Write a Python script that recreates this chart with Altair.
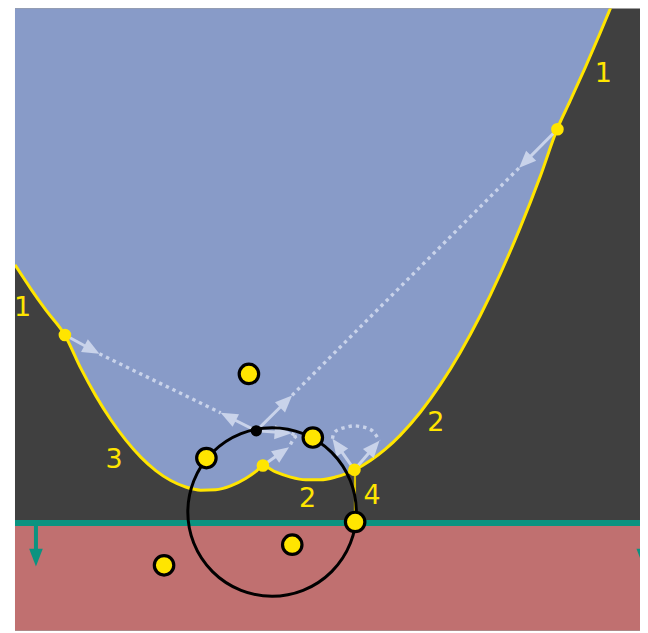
import math
import altair as alt
import pandas as pd

# ---------------- data (image coordinates) ----------------
frame_x = [14, 648]
frame_y = [6, 633]
sweep_y = 523.3

# beach line (yellow curve)
curve_x = [14, 30, 45, 64, 80, 95, 110, 125, 140, 155, 170, 185, 200, 215, 230, 245,
           255, 262, 275, 290, 305, 320, 335, 345, 355, 370, 385, 400, 420, 440, 460,
           480, 500, 520, 540, 557, 570, 585, 600, 612]
curve_y = [264.8, 289.0, 310.2, 335.2, 368.5, 396.0, 419.9, 440.3, 457.3, 470.8, 480.8,
           487.3, 490.4, 490.0, 486.1, 478.7, 471.9, 466.0, 472.2, 477.4, 480.0, 480.0,
           477.3, 474.1, 469.7, 460.8, 449.4, 435.3, 412.4, 384.8, 352.5, 315.5, 273.8,
           227.5, 176.4, 128.8, 100.6, 67.4, 32.7, 3.9]

# degenerate arc (vertical segment)
seg_x = [354.5]
seg_y = [469.7]
seg_y2 = [523.3]

# sites
site_x = [248.3, 205.7, 312.3, 354.7, 291.7, 163.3]
site_y = [374.0, 458.3, 437.7, 522.3, 545.0, 565.7]

# breakpoints
bp_x = [64.0, 262.3, 354.0, 557.3]
bp_y = [335.0, 465.7, 470.0, 129.0]

# voronoi vertex
vert_x = [255.7]
vert_y = [431.0]

# circle
circ_x = [271.5]
circ_y = [512.3]
circ_r = [84.4]

# arrows (start -> tip)
arr_x0 = [64.0, 255.7, 255.7, 557.3, 255.7, 262.3, 354.0, 354.0]
arr_y0 = [335.0, 431.0, 431.0, 129.0, 431.0, 465.7, 470.0, 470.0]
arr_x1 = [98.5, 220.0, 291.5, 519.0, 291.0, 288.5, 332.0, 379.0]
arr_y1 = [353.8, 413.0, 395.5, 167.5, 433.5, 447.5, 439.0, 441.0]

# dotted paths
dot_grp = ["a", "a", "b", "b", "c", "c", "c",
           "d", "d", "d", "d", "d", "d", "d", "d", "d"]
dot_x = [98.5, 220.0, 291.5, 519.0, 291.0, 297.0, 288.5,
         332.0, 333.3, 339.3, 346.0, 353.3, 360.0, 366.7, 372.7, 379.0]
dot_y = [353.8, 413.0, 395.5, 167.5, 433.5, 436.0, 447.5,
         439.0, 433.3, 429.3, 427.3, 426.0, 426.7, 428.3, 431.7, 441.0]

# labels
lab_text = ["1", "1", "3", "2", "2", "4"]
lab_x = [603.3, 21.7, 113.3, 435.5, 307.0, 371.7]
lab_y = [73.3, 308.0, 460.0, 423.0, 499.5, 496.7]

# teal arrows on the sweep line
teal_x = [35.0, 643.3]
teal_tip = [567.0, 567.0]

# ---------------- colours ----------------
BLUE = "#889bc8"
GRAY = "#404040"
RED = "#c07070"
TEAL = "#0b9380"
YELLOW = "#ffe500"
LIGHT = "#c9d3ea"

# ---------------- scales (1 data unit = 1 pixel) ----------------
PX0, PX1 = 14, 640
PY0, PY1 = 8, 631
W = PX1 - PX0
H = PY1 - PY0
xs = alt.Scale(domain=[PX0, PX1], nice=False, zero=False)
ys = alt.Scale(domain=[PY0, PY1], nice=False, zero=False, reverse=True)


def X(f):
    return alt.X(f"{f}:Q", scale=xs, axis=None)


def Y(f):
    return alt.Y(f"{f}:Q", scale=ys, axis=None)


# ---------------- tables ----------------
curve = pd.DataFrame({"x": curve_x, "y": curve_y, "top": frame_y[0]})
red = pd.DataFrame({"x": [frame_x[0]], "x2": [frame_x[1]], "y": [sweep_y], "y2": [frame_y[1]]})
sweep = pd.DataFrame({"x": [frame_x[0]], "x2": [frame_x[1]], "y": [sweep_y]})
seg = pd.DataFrame({"x": seg_x, "y": seg_y, "y2": seg_y2})
sites = pd.DataFrame({"x": site_x, "y": site_y})
bps = pd.DataFrame({"x": bp_x, "y": bp_y})
vert = pd.DataFrame({"x": vert_x, "y": vert_y})
circ = pd.DataFrame({"x": circ_x, "y": circ_y, "s": [(2 * r) ** 2 for r in circ_r]})
dots = pd.DataFrame({"g": dot_grp, "x": dot_x, "y": dot_y, "o": list(range(len(dot_x)))})
labs = pd.DataFrame({"t": lab_text, "x": lab_x, "y": lab_y})

HEAD = 17.0
rows = []
for x0, y0, x1, y1 in zip(arr_x0, arr_y0, arr_x1, arr_y1):
    dx, dy = x1 - x0, y1 - y0
    L = math.hypot(dx, dy)
    ux, uy = dx / L, dy / L
    ang = (math.degrees(math.atan2(dx, -dy)) + 360) % 360
    rows.append({"x": x0, "y": y0, "xe": x1 - ux * HEAD * 0.8, "ye": y1 - uy * HEAD * 0.8,
                 "tx": x1, "ty": y1, "ang": ang})
arrows = pd.DataFrame(rows)

teal = pd.DataFrame({"x": teal_x, "y": [sweep_y] * 2, "ye": [t - 14 for t in teal_tip],
                     "ty": teal_tip, "ang": [180.0, 180.0]})

# ---------------- layers ----------------
blue_area = alt.Chart(curve).mark_area(color=BLUE, interpolate="monotone", clip=True).encode(
    x=X("x"), y=Y("y"), y2=alt.Y2("top:Q"))

red_rect = alt.Chart(red).mark_rect(color=RED, clip=True).encode(
    x=X("x"), x2=alt.X2("x2:Q"), y=Y("y"), y2=alt.Y2("y2:Q"))

sweep_line = alt.Chart(sweep).mark_rule(color=TEAL, strokeWidth=6, clip=True).encode(
    x=X("x"), x2=alt.X2("x2:Q"), y=Y("y"))

curve_line = alt.Chart(curve).mark_line(color=YELLOW, strokeWidth=3, interpolate="monotone",
                                        clip=True).encode(x=X("x"), y=Y("y"))

seg_line = alt.Chart(seg).mark_rule(color="#d9c200", strokeWidth=2.2).encode(
    x=X("x"), y=Y("y"), y2=alt.Y2("y2:Q"))

dotted = alt.Chart(dots).mark_line(color=LIGHT, strokeWidth=3.4, strokeDash=[3.4, 4],
                                   interpolate="monotone", strokeCap="butt").encode(
    x=X("x"), y=Y("y"), detail="g:N", order="o:Q")

shafts = alt.Chart(arrows).mark_rule(color=LIGHT, strokeWidth=3).encode(
    x=X("x"), y=Y("y"), x2=alt.X2("xe:Q"), y2=alt.Y2("ye:Q"))

heads = alt.Chart(arrows).mark_point(shape="M0,0L-0.42,1L0.42,1Z", filled=True, color=LIGHT,
                                     opacity=1, size=(2 * HEAD) ** 2, strokeWidth=0).encode(
    x=X("tx"), y=Y("ty"), angle=alt.Angle("ang:Q", scale=None))

circle = alt.Chart(circ).mark_point(shape="circle", filled=False, color="black", strokeWidth=3,
                                    opacity=1).encode(
    x=X("x"), y=Y("y"), size=alt.Size("s:Q", scale=None, legend=None))

labels = alt.Chart(labs).mark_text(color=YELLOW, font="DejaVu Sans", fontSize=27,
                                   baseline="middle", align="center").encode(
    x=X("x"), y=Y("y"), text="t:N")

bp_pts = alt.Chart(bps).mark_point(shape="circle", filled=True, color=YELLOW, opacity=1,
                                   size=160, strokeWidth=0).encode(x=X("x"), y=Y("y"))

vert_pt = alt.Chart(vert).mark_point(shape="circle", filled=True, color="black", opacity=1,
                                     size=130, strokeWidth=0).encode(x=X("x"), y=Y("y"))

site_pts = alt.Chart(sites).mark_point(shape="circle", filled=True, fill=YELLOW, stroke="black",
                                       strokeWidth=3.2, opacity=1, size=380).encode(
    x=X("x"), y=Y("y"))

teal_shaft = alt.Chart(teal).mark_rule(color=TEAL, strokeWidth=4, clip=True).encode(
    x=X("x"), y=Y("y"), y2=alt.Y2("ye:Q"))
teal_head = alt.Chart(teal).mark_point(shape="M0,0L-0.38,1L0.38,1Z", filled=True, color=TEAL,
                                       opacity=1, size=36 ** 2, strokeWidth=0, clip=True).encode(
    x=X("x"), y=Y("ty"), angle=alt.Angle("ang:Q", scale=None))

chart = alt.layer(
    blue_area, red_rect, sweep_line, teal_shaft, teal_head, curve_line, seg_line, dotted,
    shafts, heads, circle, labels, bp_pts, vert_pt, site_pts
).properties(
    width=W, height=H,
    padding={"left": 6, "top": 0, "right": 0, "bottom": 0},
    background="white",
).configure_view(fill=GRAY, stroke=None)

chart.save("out.html", embed_options={"renderer": "svg", "actions": False})
